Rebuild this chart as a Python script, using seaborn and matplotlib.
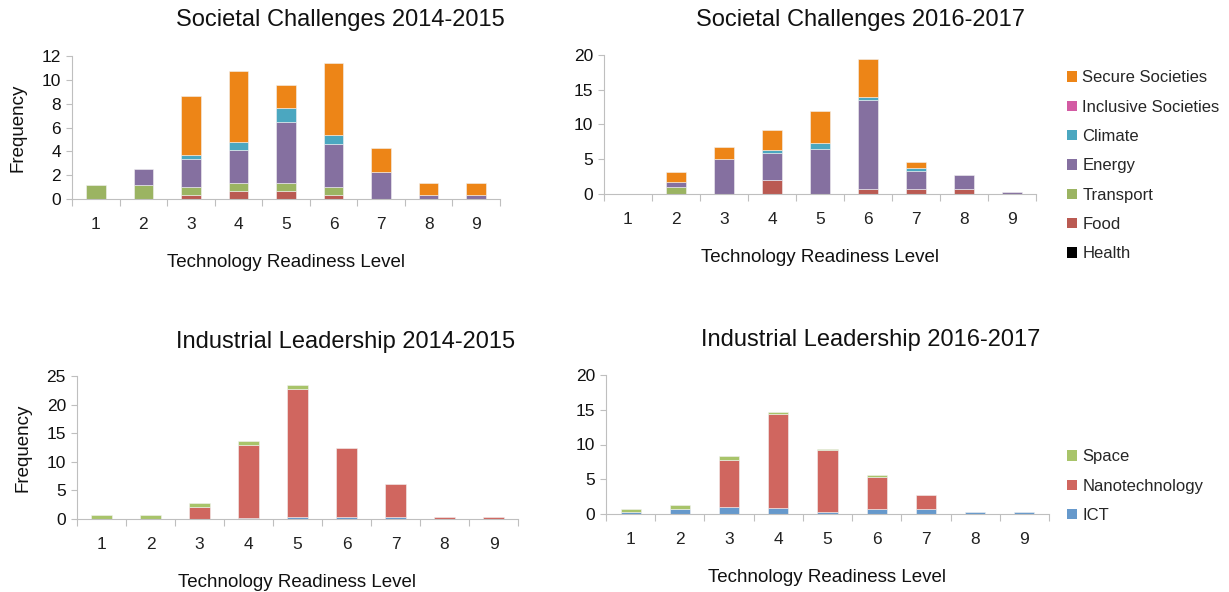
import numpy as np
import pandas as pd
import matplotlib.pyplot as plt
from matplotlib.patches import Patch
import seaborn as sns

# Technology Readiness Levels
trl = [1, 2, 3, 4, 5, 6, 7, 8, 9]

# Societal Challenges (legend order, top of stack first)
sc_fields = ["Secure Societies", "Inclusive Societies", "Climate", "Energy",
             "Transport", "Food", "Health"]

sc14_secure = [0, 0, 4.97, 6.0, 1.98, 6.0, 2.04, 1.04, 1.04]
sc14_inclusive = [0, 0, 0, 0, 0, 0, 0, 0, 0]
sc14_climate = [0, 0, 0.34, 0.67, 1.15, 0.81, 0, 0, 0]
sc14_energy = [0, 1.33, 2.32, 2.71, 5.08, 3.55, 2.23, 0.3, 0.3]
sc14_transport = [1.17, 1.17, 0.73, 0.73, 0.73, 0.73, 0, 0, 0]
sc14_food = [0, 0, 0.3, 0.64, 0.64, 0.3, 0, 0, 0]
sc14_health = [0, 0, 0, 0, 0, 0, 0, 0, 0]

sc16_secure = [0, 1.49, 1.73, 2.78, 4.6, 5.5, 0.77, 0, 0]
sc16_inclusive = [0, 0, 0, 0, 0, 0, 0, 0, 0]
sc16_climate = [0, 0, 0, 0.53, 0.8, 0.43, 0.43, 0, 0]
sc16_energy = [0, 0.73, 5.0, 3.85, 6.5, 12.8, 2.7, 2.07, 0.29]
sc16_transport = [0, 1.0, 0, 0, 0, 0, 0, 0, 0]
sc16_food = [0, 0, 0, 2.0, 0, 0.67, 0.67, 0.67, 0]
sc16_health = [0, 0, 0, 0, 0, 0, 0, 0, 0]

# Industrial Leadership (legend order, top of stack first)
il_fields = ["Space", "Nanotechnology", "ICT"]

il14_space = [0.7, 0.7, 0.64, 0.58, 0.64, 0, 0, 0, 0]
il14_nano = [0, 0, 2.16, 12.9, 22.4, 12.05, 5.7, 0.3, 0.3]
il14_ict = [0, 0, 0, 0.1, 0.35, 0.35, 0.35, 0, 0]

il16_space = [0.37, 0.53, 0.48, 0.4, 0.2, 0.2, 0, 0, 0]
il16_nano = [0, 0, 6.84, 13.5, 8.94, 4.7, 2.03, 0, 0]
il16_ict = [0.3, 0.72, 1.0, 0.82, 0.24, 0.67, 0.67, 0.3, 0.3]

sc_colors = {"Secure Societies": "#ED8517", "Inclusive Societies": "#D35BA3",
             "Climate": "#4BA7C0", "Energy": "#8570A0", "Transport": "#9BB462",
             "Food": "#BA5A52", "Health": "#000000"}
il_colors = {"Space": "#A8C46A", "Nanotechnology": "#D0665F", "ICT": "#6699CC"}


def long_table(fields, series):
    rows = []
    for f, vals in zip(fields, series):
        for t, v in zip(trl, vals):
            rows.append({"trl": t, "field": f, "freq": v})
    return pd.DataFrame(rows)


sc14 = long_table(sc_fields, [sc14_secure, sc14_inclusive, sc14_climate, sc14_energy,
                              sc14_transport, sc14_food, sc14_health])
sc16 = long_table(sc_fields, [sc16_secure, sc16_inclusive, sc16_climate, sc16_energy,
                              sc16_transport, sc16_food, sc16_health])
il14 = long_table(il_fields, [il14_space, il14_nano, il14_ict])
il16 = long_table(il_fields, [il16_space, il16_nano, il16_ict])

sns.set_style("white")
plt.rcParams['font.family'] = ['Liberation Sans', 'DejaVu Sans']

W, H = 1229, 592
fig = plt.figure(figsize=(W / 100, H / 100), dpi=100)


def px_axes(left, right, top, bottom):
    return fig.add_axes([left / W, 1 - bottom / H, (right - left) / W, (bottom - top) / H])


panels = [
    (px_axes(72, 500, 56, 199), sc14, sc_fields, sc_colors, 12, 2, True,
     "Societal Challenges 2014-2015", (340, 20)),
    (px_axes(604, 1036, 55, 194), sc16, sc_fields, sc_colors, 20, 5, False,
     "Societal Challenges 2016-2017", (860, 20)),
    (px_axes(77, 518, 376, 519), il14, il_fields, il_colors, 25, 5, True,
     "Industrial Leadership 2014-2015", (346, 342)),
    (px_axes(606, 1049, 375, 514), il16, il_fields, il_colors, 20, 5, False,
     "Industrial Leadership 2016-2017", (871, 340)),
]

grey = "#BFBFBF"
for ax, df, fields, colors, ymax, ystep, ylab, title, tpos in panels:
    sns.histplot(data=df, x="trl", weights="freq", hue="field", hue_order=fields,
                 multiple="stack", discrete=True, shrink=0.41, palette=colors,
                 alpha=1, edgecolor="#F2F2F2", linewidth=0.4, legend=False, ax=ax)
    # empty segments should not leave an outline on top of the stack
    for p in ax.patches:
        if p.get_height() == 0:
            p.set_linewidth(0)
    ax.set_xlim(0.5, 9.5)
    ax.set_ylim(0, ymax)
    ax.set_yticks(np.arange(0, ymax + 0.1, ystep))
    ax.set_xticks(trl)
    ax.set_xticks(np.arange(0.5, 10, 1), minor=True)
    ax.tick_params(axis="x", which="major", length=0, pad=13, labelsize=12.5, colors="#222222")
    ax.tick_params(axis="x", which="minor", length=5, color=grey, width=0.8, direction="out")
    ax.tick_params(axis="y", length=4, color=grey, width=0.8, direction="out", pad=4,
                   labelsize=12.5, labelcolor="#111111")
    ax.tick_params(bottom=True, left=True, which="both")
    for s in ["top", "right"]:
        ax.spines[s].set_visible(False)
    for s in ["left", "bottom"]:
        ax.spines[s].set_color(grey)
        ax.spines[s].set_linewidth(0.8)
    ax.set_xlabel("Technology Readiness Level", fontsize=13.5, labelpad=16, color="#111111")
    if ylab:
        ax.set_ylabel("Frequency", fontsize=13.5, labelpad=11, color="#111111")
    else:
        ax.set_ylabel("")
    fig.text(tpos[0] / W, 1 - tpos[1] / H, title, ha="center", va="center",
             fontsize=17, color="#111111")

sc_handles = [Patch(facecolor=sc_colors[f], edgecolor="none") for f in sc_fields]
fig.legend(sc_handles, sc_fields, loc="upper left", bbox_to_anchor=(1059 / W, 1 - 62 / H),
           frameon=False, fontsize=12, handlelength=0.6, handleheight=0.6,
           handletextpad=0.3, labelspacing=0.86, borderpad=0)

il_handles = [Patch(facecolor=il_colors[f], edgecolor="none") for f in il_fields]
fig.legend(il_handles, il_fields, loc="upper left", bbox_to_anchor=(1059 / W, 1 - 441 / H),
           frameon=False, fontsize=12, handlelength=0.6, handleheight=0.6,
           handletextpad=0.3, labelspacing=0.86, borderpad=0)

fig.savefig("out.png", dpi=100, facecolor="white")
